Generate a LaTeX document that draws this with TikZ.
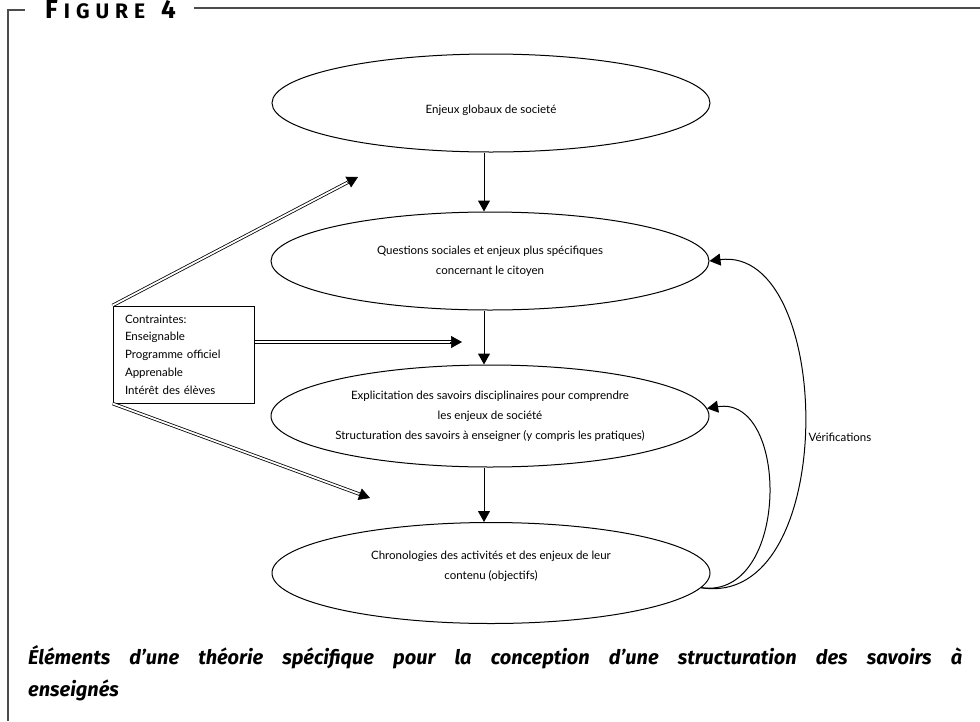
\documentclass[tikz,border=0pt]{standalone}
\usepackage{fontspec}
\setmainfont{Lato}
\newfontfamily\capfont{Fira Sans}
\usetikzlibrary{arrows.meta, calc, positioning, shapes.geometric}
\newcommand{\corps}{\fontsize{11.5}{20}\selectfont}

\tikzset{
  bulle/.style={draw, ellipse, line width=1pt, minimum width=438pt, minimum height=98pt,
    inner sep=0pt, align=center, font=\corps},
  cadre/.style={draw=black!70, line width=1.2pt},
  doublefleche/.style={double, double distance=1.8pt, line width=0.8pt},
  pointe/.style={-{Triangle[length=11pt,width=12pt]}, line width=0.6pt},
  fleche/.style={-{Triangle[length=11pt,width=12pt]}, line width=1pt},
}

\begin{document}
\begin{tikzpicture}[x=1pt, y=-1pt]
  \useasboundingbox (0,0) rectangle (980,721);
  % cadre de la figure
  \draw[cadre] (25,10) -- (8,10) -- (8,721);
  \draw[cadre] (194,8) -- (980,8);
  \node[anchor=base west, inner sep=0pt, font=\capfont\bfseries] (titre) at (45,18)
    {\fontsize{26}{26}\selectfont F\hspace{6pt}{\fontsize{21}{21}\selectfont I\hspace{6pt}G\hspace{6pt}U\hspace{6pt}R\hspace{6pt}E}\hspace{16pt}4};

  % les quatre niveaux
  \node[bulle, text height=24pt] (global) at (491,103) {Enjeux globaux de societé};
  \node[bulle] (questions) at (490,261) {Questions sociales et enjeux plus spécifiques\\concernant le citoyen};
  \node[bulle, minimum height=102pt] (savoirs) at (490,416) {Explicitation des savoirs disciplinaires pour comprendre\\les enjeux de société\\Structuration des savoirs à enseigner (y compris les pratiques)};
  \node[bulle, minimum height=101pt, text height=16pt] (chrono) at (491,573) {Chronologies des activités et des enjeux de leur\\contenu (objectifs)};

  \draw[fleche] (global.south -| 484,0) -- (484,0 |- questions.north);
  \draw[fleche] (questions.south -| 484,0) -- (484,0 |- savoirs.north);
  \draw[fleche] (savoirs.south -| 484,0) -- (484,0 |- chrono.north);

  % contraintes
  \node[draw, line width=1pt, minimum width=141pt, minimum height=97pt, inner xsep=12pt,
    text width=117pt, align=left, font=\fontsize{11.5}{17.7}\selectfont] (contraintes) at (183.5,354.5)
    {Contraintes:\\Enseignable\\Programme officiel\\Apprenable\\Intérêt des élèves};

  \coordinate (cible1) at (358,177);
  \coordinate (cible2) at (462,342);
  \coordinate (cible3) at (370,498);
  \draw[doublefleche, shorten >=10pt] (contraintes.north west) -- (cible1);
  \draw[pointe] ($(cible1)!12pt!(contraintes.north west)$) -- (cible1);
  \draw[doublefleche, shorten >=10pt] (contraintes.east |- cible2) -- (cible2);
  \draw[pointe] ($(cible2)!12pt!(contraintes.east |- cible2)$) -- (cible2);
  \draw[doublefleche, shorten >=10pt] (contraintes.south west) -- (cible3);
  \draw[pointe] ($(cible3)!12pt!(contraintes.south west)$) -- (cible3);

  % verifications
  \draw[fleche] (chrono.-4) .. controls (790,600) and (790,395) .. (savoirs.2.5);
  \draw[fleche] (chrono.-4) .. controls (840,610) and (835,245) .. (questions.east);
  \node[font=\corps] (verif) at (840,437) {Vérifications};

  % legende
  \node[anchor=north west, inner sep=0pt, text width=934pt, align=justify,
    font=\capfont\itshape\bfseries\fontsize{20}{32}\selectfont] (legende) at (28,645)
    {Éléments d’une théorie spécifique pour la conception d’une structuration des savoirs à\linebreak enseignés};
\end{tikzpicture}
\end{document}
